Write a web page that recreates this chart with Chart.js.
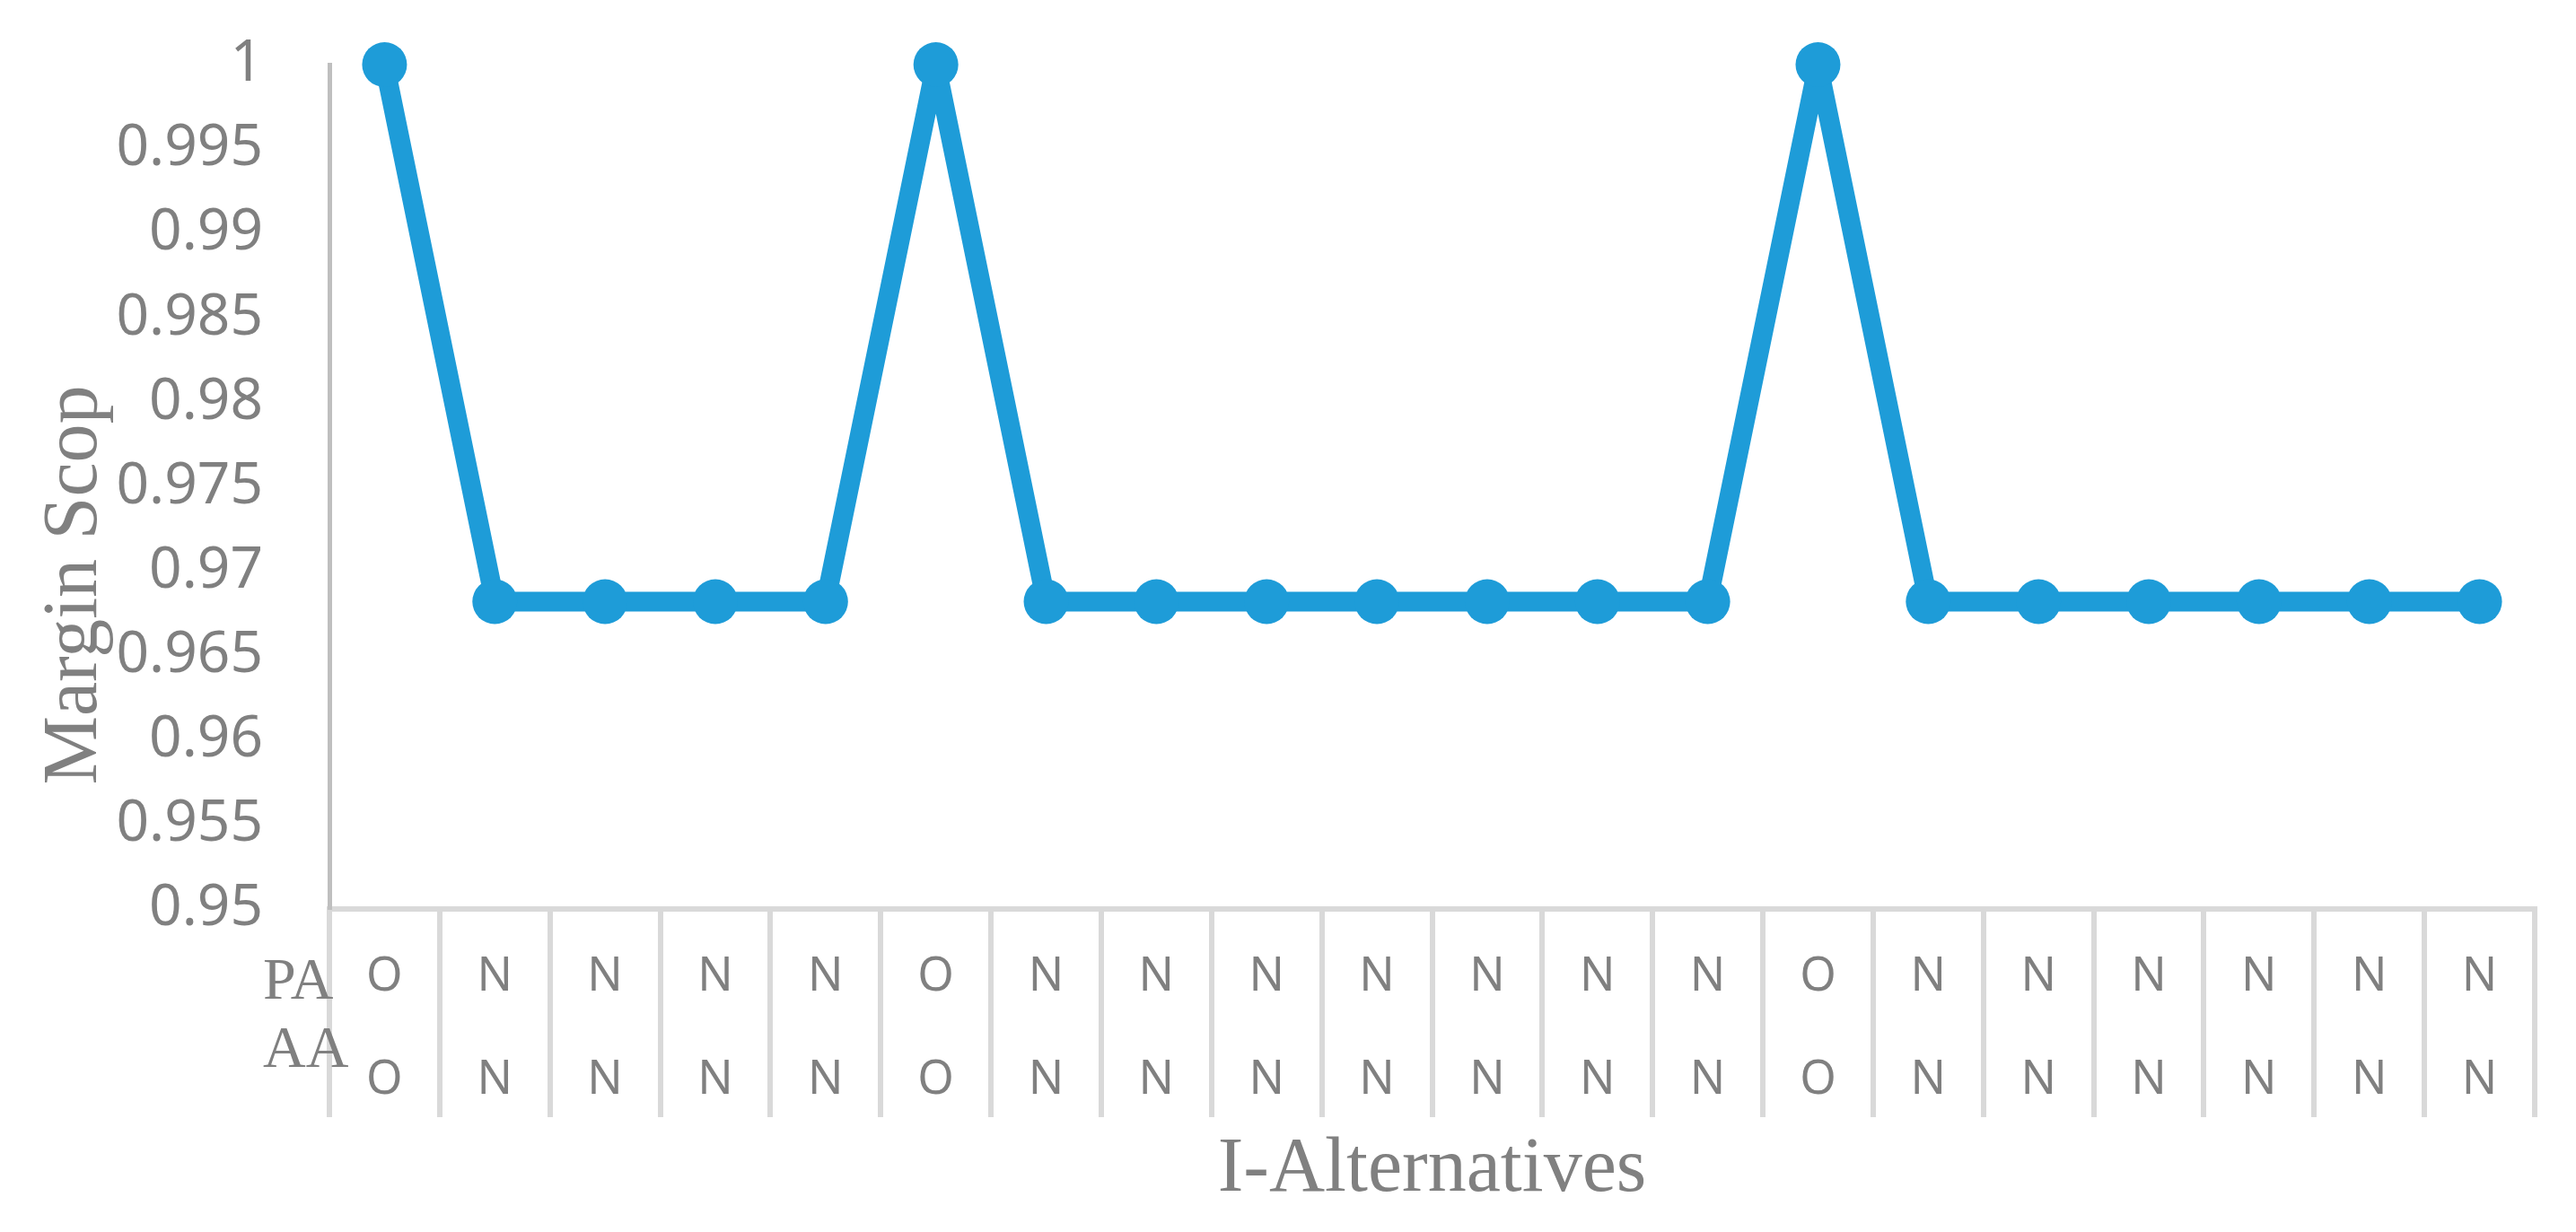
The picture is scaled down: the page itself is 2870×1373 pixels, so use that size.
<!DOCTYPE html>
<html>
<head>
<meta charset="utf-8">
<script src="https://cdn.jsdelivr.net/npm/chart.js@4.4.1/dist/chart.umd.min.js"></script>
<style>
body { margin: 0; background: #fff; }
</style>
</head>
<body>
<canvas id="grafico" width="2870" height="1373"></canvas>
<script>
// rows of the category axis
const pa = ['O', 'N', 'N', 'N', 'N', 'O', 'N', 'N', 'N', 'N', 'N', 'N', 'N', 'O', 'N', 'N', 'N', 'N', 'N', 'N']
const aa = ['O', 'N', 'N', 'N', 'N', 'O', 'N', 'N', 'N', 'N', 'N', 'N', 'N', 'O', 'N', 'N', 'N', 'N', 'N', 'N']
const rotulosLinhas = ['PA', 'AA']

// margin scop per alternative
const margem = [1, 0.9682, 0.9682, 0.9682, 0.9682, 1, 0.9682, 0.9682, 0.9682, 0.9682, 0.9682, 0.9682, 0.9682,
    1, 0.9682, 0.9682, 0.9682, 0.9682, 0.9682, 0.9682]

const yMin = 0.95
const yMax = 1
const yPasso = 0.005

const tituloX = 'I-Alternatives'
const tituloY = 'Margin Scop'

var cinza = '#808080'
var azul = '#1e9cd8'

var labels = pa.map(function (p, i) { return [p, aa[i]] })

// PA / AA row names and the y title, centred on the whole plot block like Excel does
const textosExtras = {
    id: 'textosExtras',
    afterDraw: function (chart) {
        var ctx = chart.ctx
        var area = chart.chartArea
        ctx.save()
        ctx.fillStyle = cinza
        ctx.font = '66px "Liberation Serif"'
        ctx.textAlign = 'left'
        ctx.textBaseline = 'alphabetic'
        ctx.fillText(rotulosLinhas[0], area.left - 74, area.bottom + 100)
        ctx.fillText(rotulosLinhas[1], area.left - 74, area.bottom + 176)

        ctx.font = '86px "Liberation Serif"'
        ctx.textAlign = 'center'
        ctx.textBaseline = 'middle'
        ctx.translate(84, 652)
        ctx.rotate(-Math.PI / 2)
        ctx.fillText(tituloY, 0, 0)
        ctx.restore()
    }
}

var ctx = document.getElementById('grafico')
var grafico = new Chart(ctx, {
    type: 'line',
    data: {
        labels: labels,
        datasets: [{
            label: tituloY,
            data: margem,
            borderColor: azul,
            borderWidth: 22,
            borderJoinStyle: 'round',
            backgroundColor: azul,
            pointBackgroundColor: azul,
            pointBorderWidth: 0,
            pointRadius: 25,
            pointHoverRadius: 25,
            tension: 0,
            clip: false
        }]
    },
    options: {
        responsive: false,
        animation: false,
        layout: { padding: { left: 0, right: 46, top: 72, bottom: 0 } },
        plugins: {
            legend: { display: false },
            tooltip: { enabled: false }
        },
        scales: {
            x: {
                offset: true,
                grid: {
                    display: true,
                    offset: true,
                    drawOnChartArea: false,
                    drawTicks: true,
                    tickLength: 232,
                    color: '#d9d9d9',
                    lineWidth: 6
                },
                border: { display: true, color: '#d9d9d9', width: 6 },
                ticks: {
                    color: cinza,
                    font: { family: 'Noto Sans', size: 52, lineHeight: 115 / 52 },
                    padding: -213,
                    maxRotation: 0,
                    minRotation: 0,
                    autoSkip: false
                },
                title: {
                    display: true,
                    text: tituloX,
                    color: cinza,
                    font: { family: 'Liberation Serif', size: 86, lineHeight: 1.2 },
                    padding: { top: 0, bottom: 17 }
                },
                afterFit: function (scale) { scale.height = 360 }
            },
            y: {
                min: yMin,
                max: yMax,
                // invisible tick marks keep the gap between labels and axis
                grid: {
                    display: true,
                    drawOnChartArea: false,
                    drawTicks: true,
                    tickLength: 74,
                    tickColor: 'rgba(0,0,0,0)'
                },
                border: { display: true, color: '#bfbfbf', width: 5 },
                ticks: {
                    stepSize: yPasso,
                    color: cinza,
                    font: { family: 'Noto Sans', size: 64 },
                    padding: 0,
                    callback: function (v) { return String(parseFloat(v.toFixed(3))) }
                },
                afterFit: function (scale) { scale.width = 367 }
            }
        }
    },
    plugins: [textosExtras]
})
</script>
</body>
</html>
